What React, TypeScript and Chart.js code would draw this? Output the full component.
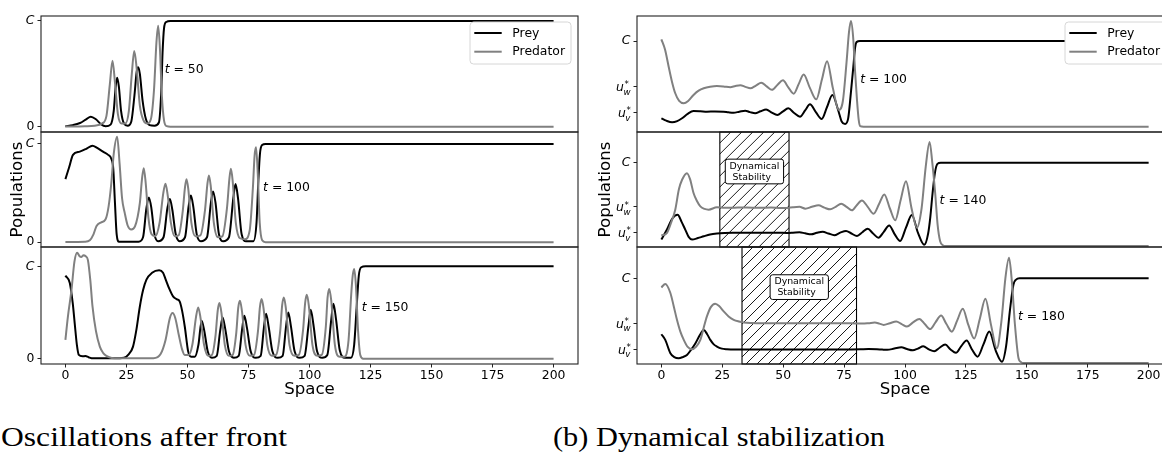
import React, { useEffect, useRef } from 'react';
import { Chart, registerables } from 'chart.js';

Chart.register(...registerables);

type Pt = [number, number];

// ---------------- data ----------------
const SPACE_TICKS = [0, 25, 50, 75, 100, 125, 150, 175, 200];
const X_MIN = -10;
const X_MAX = 210;
const C_LEVEL = 1;
const U_W = 0.47;
const U_V = 0.165;
const LEFT_Y_TICKS = [0, C_LEVEL];
const RIGHT_Y_TICKS = [U_V, U_W, C_LEVEL];
const SERIES_NAMES = ['Prey', 'Predator'];

// (a) oscillations after front
const preyA50: Pt[] = [[0,0.005],[3,0.015],[6,0.035],[8.5,0.07],[10.4,0.095],[12.5,0.07],[14.5,0.025],[16.5,0.005],[18.5,0.02],[19.8,0.15],[20.6,0.38],[21.2,0.464],[21.9,0.38],[22.8,0.15],[24,0.03],[25.5,0.01],[27,0.05],[28.3,0.3],[29.2,0.52],[29.8,0.562],[30.5,0.5],[31.6,0.25],[33,0.07],[34.5,0.015],[36.5,0.01],[38.3,0.04],[39.2,0.3],[39.8,0.7],[40.4,0.93],[41.3,0.99],[43,1],[200,1]];
const predA50: Pt[] = [[0,0.002],[8,0.005],[12,0.01],[15,0.03],[16.8,0.1],[18.2,0.4],[19.3,0.624],[20.3,0.42],[21.5,0.12],[23,0.03],[24.5,0.03],[26,0.15],[27.2,0.5],[28.2,0.716],[29.2,0.55],[30.5,0.2],[32,0.06],[33.5,0.03],[35,0.07],[36.3,0.35],[37.3,0.8],[38,0.955],[38.7,0.75],[39.5,0.3],[40.4,0.06],[41.5,0.005],[43,0],[200,0]];
const preyA100: Pt[] = [[0,0.642],[1.5,0.76],[3.1,0.889],[5.9,0.922],[8.5,0.95],[11.1,0.983],[13,0.96],[15.4,0.922],[17.5,0.889],[18.8,0.85],[19.6,0.75],[20.3,0.4],[21,0.08],[22,0.005],[30,0.005],[31.8,0.05],[33.2,0.35],[34.2,0.456],[35.2,0.35],[36.5,0.08],[38,0.01],[40.2,0.05],[41.8,0.35],[42.8,0.44],[43.8,0.33],[45.2,0.08],[46.8,0.01],[49,0.05],[50.5,0.37],[51.4,0.476],[52.4,0.36],[53.8,0.08],[55.5,0.01],[58,0.05],[59.6,0.4],[60.5,0.517],[61.5,0.4],[62.9,0.08],[64.7,0.01],[67,0.05],[68.8,0.45],[69.7,0.592],[70.7,0.45],[72.2,0.08],[74,0.01],[77,0.01],[78.3,0.2],[79,0.6],[79.7,0.9],[80.6,0.99],[82,1],[200,1]];
const predA100: Pt[] = [[0,0.002],[8,0.005],[10,0.02],[11.5,0.08],[12.7,0.162],[14.5,0.2],[16.4,0.23],[17.7,0.365],[18.8,0.6],[19.8,0.9],[21.2,1.074],[22.2,0.8],[23.2,0.45],[24.3,0.298],[25.5,0.17],[27,0.129],[28.5,0.16],[30.5,0.4],[31.4,0.65],[32.1,0.754],[32.9,0.6],[34,0.25],[35.3,0.08],[36.8,0.06],[38.6,0.2],[40.1,0.5],[41,0.595],[41.9,0.48],[43.2,0.2],[44.8,0.06],[46.4,0.07],[48,0.3],[49,0.56],[49.6,0.642],[50.3,0.55],[51.6,0.2],[53.3,0.06],[55.3,0.07],[57.2,0.33],[58.2,0.6],[58.8,0.679],[59.5,0.58],[60.8,0.2],[62.5,0.05],[64.3,0.06],[66.2,0.35],[67.2,0.65],[67.8,0.747],[68.5,0.63],[69.8,0.2],[71.5,0.04],[73.5,0.03],[75.5,0.12],[76.8,0.55],[77.5,0.88],[78.1,0.966],[78.8,0.7],[79.6,0.2],[80.6,0.02],[82,0],[200,0]];
const preyA150: Pt[] = [[0,0.899],[1.8,0.82],[3,0.6],[3.8,0.385],[4.7,0.15],[5.5,0.04],[7,0.025],[8.2,0.028],[9.5,0.015],[11.3,0.003],[20,0.003],[24,0.01],[26,0.05],[27.7,0.13],[29,0.3],[30.5,0.565],[31.8,0.74],[33.2,0.855],[35.5,0.93],[38.4,0.957],[40,0.93],[41.1,0.855],[42.5,0.76],[44.1,0.674],[45.5,0.645],[46.8,0.62],[47.8,0.52],[48.9,0.348],[50.3,0.076],[51.5,0.02],[53,0.02],[54.5,0.15],[55.8,0.41],[56.9,0.3],[58.3,0.08],[60,0.01],[62,0.03],[63.4,0.3],[64.4,0.446],[65.5,0.32],[67,0.08],[69,0.01],[71,0.03],[72.4,0.32],[73.3,0.464],[74.4,0.33],[75.9,0.08],[78,0.01],[80,0.03],[81.3,0.33],[82.2,0.486],[83.3,0.34],[84.8,0.08],[87,0.01],[89,0.03],[90.4,0.35],[91.3,0.5],[92.4,0.35],[93.9,0.08],[96,0.01],[98,0.03],[99.6,0.36],[100.5,0.529],[101.6,0.37],[103.1,0.08],[105.2,0.01],[107.3,0.04],[108.9,0.42],[109.8,0.595],[110.9,0.42],[112.4,0.09],[114.5,0.01],[117,0.01],[118.3,0.15],[119.3,0.55],[120.2,0.9],[121.2,0.99],[123,1],[200,1]];
const predA150: Pt[] = [[0,0.203],[1,0.45],[2.5,0.747],[3.7,1.05],[4.8,1.146],[5.8,1.11],[6.5,1.102],[7.4,1.12],[8.3,1.109],[9.2,1.07],[10.2,0.85],[11.1,0.565],[12.5,0.3],[14.1,0.13],[15.5,0.06],[16.8,0.03],[19,0.008],[25,0.003],[36,0.005],[39,0.05],[41,0.2],[42.8,0.44],[43.9,0.493],[45,0.44],[46.5,0.25],[47.8,0.1],[48.9,0.04],[50.5,0.04],[52,0.15],[53.5,0.45],[54.4,0.554],[55.3,0.45],[56.8,0.15],[58.5,0.03],[60,0.04],[61.5,0.25],[62.4,0.52],[63.1,0.602],[63.9,0.5],[65.3,0.15],[67,0.03],[68.5,0.04],[70,0.28],[70.8,0.55],[71.5,0.627],[72.3,0.52],[73.8,0.15],[75.6,0.03],[77.3,0.04],[78.9,0.3],[79.7,0.56],[80.4,0.645],[81.2,0.54],[82.7,0.15],[84.6,0.03],[86.3,0.04],[88,0.3],[88.8,0.58],[89.5,0.663],[90.3,0.55],[91.8,0.15],[93.8,0.03],[95.6,0.04],[97.4,0.32],[98.2,0.6],[98.9,0.692],[99.7,0.58],[101.2,0.15],[103.2,0.03],[105,0.04],[106.7,0.35],[107.4,0.66],[108.1,0.754],[108.9,0.63],[110.4,0.15],[112.4,0.02],[114.3,0.02],[116,0.2],[117.1,0.7],[117.7,0.9],[118.3,0.972],[119,0.8],[119.9,0.3],[120.8,0.04],[122,0],[200,0]];

// (b) dynamical stabilization
const preyB100: Pt[] = [[0,0.098],[2,0.07],[4.4,0.051],[6.5,0.065],[8.5,0.098],[10.8,0.15],[13.2,0.183],[16,0.18],[18.7,0.175],[22,0.178],[25.5,0.175],[27.5,0.168],[29.6,0.163],[32,0.175],[34.4,0.187],[36.4,0.17],[38.5,0.156],[40.7,0.18],[43,0.202],[45.3,0.165],[47.6,0.136],[49.8,0.175],[52.1,0.214],[54.5,0.16],[56.9,0.117],[59,0.19],[61,0.261],[63.4,0.17],[65.8,0.09],[68,0.23],[70.2,0.37],[72.7,0.18],[74,0.06],[75.4,0.031],[76.7,0.1],[77.8,0.4],[78.8,0.7],[79.5,0.92],[80.2,0.99],[81.5,1],[200,1]];
const predB100: Pt[] = [[0,1.02],[1.5,0.9],[3,0.7],[4.4,0.52],[5.7,0.39],[7.3,0.3],[9.2,0.273],[11,0.3],[13.2,0.37],[15.3,0.42],[17.4,0.448],[20,0.466],[22.8,0.475],[25.5,0.47],[28.3,0.46],[30.4,0.475],[32.4,0.484],[34.5,0.465],[36.5,0.448],[38.8,0.48],[41,0.514],[43.2,0.47],[45.4,0.43],[47.7,0.49],[49.9,0.541],[52.1,0.46],[54.3,0.385],[56.4,0.5],[58.4,0.61],[61,0.45],[63.6,0.319],[65.9,0.55],[68,0.765],[70.4,0.45],[72.8,0.195],[74.5,0.3],[76,0.75],[77,1.1],[77.8,1.233],[78.7,1.05],[79.5,0.65],[80.3,0.31],[81,0.08],[81.6,0.007],[83,0],[200,0]];
const preyB140: Pt[] = [[0,0.078],[2.3,0.197],[4.5,0.33],[6.7,0.376],[8.3,0.29],[9.8,0.197],[11.2,0.11],[12.6,0.078],[15,0.095],[17.4,0.117],[20,0.138],[22.8,0.149],[26,0.155],[30,0.158],[35,0.16],[40,0.158],[45,0.16],[49,0.158],[51.6,0.157],[54,0.16],[56.7,0.165],[59,0.152],[61.5,0.14],[63.8,0.158],[66.2,0.17],[68.6,0.15],[71,0.13],[73.4,0.16],[75.8,0.18],[78,0.15],[80.3,0.12],[82.5,0.165],[84.7,0.207],[86.9,0.15],[89.1,0.1],[91.3,0.17],[93.5,0.247],[95.8,0.14],[98,0.06],[100.4,0.22],[102.8,0.373],[105.3,0.16],[107.9,0.014],[109.5,0.15],[110.4,0.35],[111.3,0.63],[112.3,0.88],[113.3,0.986],[114.7,1],[200,1]];
const predB140: Pt[] = [[0,0.125],[2.3,0.158],[4,0.28],[5.7,0.436],[7.2,0.68],[8.5,0.795],[10.5,0.874],[11.8,0.8],[13.2,0.636],[14.6,0.54],[16,0.476],[17.7,0.445],[19.4,0.436],[22.8,0.464],[26,0.458],[30,0.46],[35,0.462],[40,0.458],[45,0.462],[49,0.455],[51.6,0.457],[54,0.465],[56.7,0.47],[59.1,0.448],[61.8,0.47],[64.5,0.488],[66.9,0.46],[69.3,0.44],[71.5,0.47],[73.8,0.508],[76,0.47],[78.2,0.428],[80.2,0.49],[82.3,0.547],[84.7,0.47],[87.1,0.388],[89.3,0.5],[91.5,0.619],[93.8,0.45],[96,0.308],[98.2,0.55],[100.4,0.778],[102.7,0.45],[104.9,0.22],[106.8,0.45],[108.5,0.95],[110.1,1.249],[111.2,1],[112.4,0.63],[113.4,0.25],[114.4,0.06],[115.5,0.01],[116.5,0],[200,0]];
const preyB180: Pt[] = [[0,0.34],[1.6,0.273],[3.7,0.115],[5.3,0.07],[7.1,0.056],[8.8,0.07],[10.5,0.095],[12.3,0.16],[14,0.233],[15.8,0.33],[17.4,0.39],[18.8,0.34],[20.1,0.273],[21.5,0.22],[22.8,0.194],[24.8,0.17],[26.9,0.162],[30,0.158],[40,0.158],[50,0.16],[60,0.16],[70,0.158],[78,0.16],[81.6,0.162],[85,0.165],[88.5,0.162],[90.6,0.158],[92.7,0.155],[95.6,0.17],[98.5,0.185],[100.8,0.165],[103.2,0.15],[105.3,0.17],[107.5,0.197],[109.8,0.16],[112,0.138],[114.2,0.18],[116.5,0.217],[118.7,0.16],[120.9,0.12],[123.1,0.2],[125.3,0.265],[127.5,0.16],[129.8,0.075],[132.2,0.22],[134.6,0.371],[137.2,0.15],[139.8,0.015],[141.5,0.2],[143.1,0.63],[144.5,0.925],[145.6,0.985],[147,1],[200,1]];
const predB180: Pt[] = [[0,0.893],[1.6,0.933],[3.7,0.827],[5,0.68],[6.4,0.51],[7.8,0.37],[9.2,0.273],[10.8,0.19],[12.6,0.162],[14.2,0.19],[16,0.273],[17.4,0.42],[18.7,0.55],[20.3,0.66],[22.1,0.7],[23.8,0.67],[25.6,0.609],[27.6,0.55],[29.7,0.51],[31.8,0.49],[33.8,0.478],[37,0.472],[42,0.47],[50,0.47],[60,0.47],[70,0.47],[78,0.468],[82.5,0.465],[85,0.47],[87.6,0.478],[89.5,0.465],[91.2,0.45],[93.8,0.47],[96.4,0.49],[98.6,0.46],[100.8,0.43],[103.3,0.48],[105.9,0.52],[108.1,0.46],[110.3,0.4],[112.5,0.48],[114.8,0.56],[117,0.46],[119.2,0.37],[121.4,0.5],[123.7,0.64],[126,0.45],[128.4,0.29],[130.7,0.52],[133,0.76],[135.3,0.45],[137.7,0.174],[139.6,0.5],[141.2,1],[142.7,1.242],[143.9,0.95],[145.1,0.46],[146.5,0.07],[147.6,0.01],[148.6,0],[200,0]];

const STABLE_B140: Pt = [24, 52.4];
const STABLE_B180: Pt = [33.1, 80.1];
const STABLE_TEXT = ['Dynamical', ' Stability'];
const CAPTIONS = ['Oscillations after front', '(b) Dynamical stabilization'];

// ---------------- layout / style ----------------
const FONT = '"DejaVu Sans", sans-serif';
const TICK_FS = 12.4;
const LABEL_FS = 16.6;
const PAD = 14;
const RPAD = 16;
const XAXIS_H = 40;
const ROW_TOPS = [16, 132, 247];
const ROW_BOTTOMS = [132, 247, 364];
const HATCH_GAP = 11;

interface Sub {
  prey: Pt[];
  pred: Pt[];
  time: string;
  timeAt: Pt;
  yMin: number;
  yMax: number;
  yTicks: number[];
  hatch?: Pt;
  boxY?: number;
}

interface Panel {
  canvasLeft: number;
  yAxisW: number;
  plotW: number;
  titlePadTop: number;
  caption: string;
  captionLeft: number;
  captionW: number;
  subs: Sub[];
}

const PANELS: Panel[] = [
  {
    canvasLeft: 0, yAxisW: 41, plotW: 537, titlePadTop: 7.4,
    caption: CAPTIONS[0], captionLeft: 1, captionW: 286,
    subs: [
      { prey: preyA50, pred: predA50, time: '50', timeAt: [40.7, 0.543], yMin: -0.05, yMax: 1.047, yTicks: LEFT_Y_TICKS },
      { prey: preyA100, pred: predA100, time: '100', timeAt: [81, 0.551], yMin: -0.049, yMax: 1.122, yTicks: LEFT_Y_TICKS },
      { prey: preyA150, pred: predA150, time: '150', timeAt: [121.4, 0.551], yMin: -0.058, yMax: 1.209, yTicks: LEFT_Y_TICKS },
    ],
  },
  {
    canvasLeft: 590, yAxisW: 47, plotW: 536, titlePadTop: 5.4,
    caption: CAPTIONS[1], captionLeft: 553, captionW: 332,
    subs: [
      { prey: preyB100, pred: predB100, time: '100', timeAt: [81.6, 0.545], yMin: -0.062, yMax: 1.292, yTicks: RIGHT_Y_TICKS },
      { prey: preyB140, pred: predB140, time: '140', timeAt: [114.2, 0.547], yMin: -0.012, yMax: 1.368, yTicks: RIGHT_Y_TICKS, hatch: STABLE_B140, boxY: 0.894 },
      { prey: preyB180, pred: predB180, time: '180', timeAt: [146.4, 0.549], yMin: -0.012, yMax: 1.37, yTicks: RIGHT_Y_TICKS, hatch: STABLE_B180, boxY: 0.896 },
    ],
  },
];

function roundRect(ctx: CanvasRenderingContext2D, x: number, y: number, w: number, h: number, r: number) {
  ctx.beginPath();
  ctx.moveTo(x + r, y);
  ctx.lineTo(x + w - r, y);
  ctx.quadraticCurveTo(x + w, y, x + w, y + r);
  ctx.lineTo(x + w, y + h - r);
  ctx.quadraticCurveTo(x + w, y + h, x + w - r, y + h);
  ctx.lineTo(x + r, y + h);
  ctx.quadraticCurveTo(x, y + h, x, y + h - r);
  ctx.lineTo(x, y + r);
  ctx.quadraticCurveTo(x, y, x + r, y);
  ctx.closePath();
}

function drawUStar(ctx: CanvasRenderingContext2D, xRight: number, y: number, sub: string) {
  const big = `italic ${TICK_FS}px ${FONT}`;
  const small = `${TICK_FS * 0.7}px ${FONT}`;
  const smallIt = `italic ${TICK_FS * 0.7}px ${FONT}`;
  ctx.font = big;
  const wu = ctx.measureText('u').width;
  ctx.font = small;
  const ws = ctx.measureText('*').width;
  ctx.font = smallIt;
  const wsub = ctx.measureText(sub).width;
  const x0 = xRight - wu - Math.max(ws, wsub);
  ctx.fillStyle = '#000';
  ctx.textAlign = 'left';
  ctx.textBaseline = 'alphabetic';
  ctx.font = big;
  ctx.fillText('u', x0, y + 4.5);
  ctx.font = small;
  ctx.fillText('*', x0 + wu + 0.6, y + 0.8);
  ctx.font = smallIt;
  ctx.fillText(sub, x0 + wu - 0.5, y + 8.3);
}

function makePlugin(sub: Sub, showLegend: boolean) {
  return {
    id: 'subDeco',
    beforeDatasetsDraw(chart: any) {
      if (!sub.hatch) return;
      const { ctx, chartArea: a, scales } = chart;
      const x1 = scales.x.getPixelForValue(sub.hatch[0]);
      const x2 = scales.x.getPixelForValue(sub.hatch[1]);
      const h = a.bottom - a.top;
      ctx.save();
      ctx.beginPath();
      ctx.rect(x1, a.top, x2 - x1, h);
      ctx.clip();
      ctx.strokeStyle = '#000';
      ctx.lineWidth = 0.9;
      ctx.beginPath();
      for (let x = x1 - h; x < x2 + HATCH_GAP; x += HATCH_GAP) {
        ctx.moveTo(x, a.bottom);
        ctx.lineTo(x + h, a.top);
      }
      ctx.stroke();
      ctx.restore();
      ctx.save();
      ctx.strokeStyle = '#000';
      ctx.lineWidth = 1.1;
      ctx.strokeRect(x1, a.top, x2 - x1, h);
      ctx.restore();
    },
    afterDatasetsDraw(chart: any) {
      const { ctx, scales } = chart;
      const tx = scales.x.getPixelForValue(sub.timeAt[0]);
      const ty = scales.y.getPixelForValue(sub.timeAt[1]);
      ctx.save();
      ctx.fillStyle = '#000';
      ctx.textBaseline = 'middle';
      ctx.textAlign = 'left';
      ctx.font = `italic ${TICK_FS}px ${FONT}`;
      ctx.fillText('t', tx, ty);
      const wt = ctx.measureText('t').width;
      ctx.font = `${TICK_FS}px ${FONT}`;
      ctx.fillText(' = ' + sub.time, tx + wt, ty);
      ctx.restore();
      if (sub.hatch && sub.boxY !== undefined) {
        const cx = scales.x.getPixelForValue((sub.hatch[0] + sub.hatch[1]) / 2);
        const cy = scales.y.getPixelForValue(sub.boxY);
        ctx.save();
        ctx.font = `9.4px ${FONT}`;
        const tw = Math.max(...STABLE_TEXT.map((s) => ctx.measureText(s).width));
        const bw = tw + 8.6;
        const bh = 24.7;
        const bx = cx - bw / 2;
        const by = cy - bh / 2;
        roundRect(ctx, bx, by, bw, bh, 2.5);
        ctx.fillStyle = '#fff';
        ctx.fill();
        ctx.strokeStyle = '#000';
        ctx.lineWidth = 1;
        ctx.stroke();
        ctx.fillStyle = '#000';
        ctx.textAlign = 'left';
        ctx.textBaseline = 'middle';
        ctx.fillText(STABLE_TEXT[0], bx + 4.3, cy - 5.3);
        ctx.fillText(STABLE_TEXT[1], bx + 4.3, cy + 5.6);
        ctx.restore();
      }
    },
    afterDraw(chart: any) {
      const { ctx, chartArea: a, scales } = chart;
      ctx.save();
      ctx.strokeStyle = '#222';
      ctx.lineWidth = 1.1;
      ctx.strokeRect(a.left, a.top, a.right - a.left, a.bottom - a.top);
      ctx.restore();
      if (sub.yTicks.length > 2) {
        ctx.save();
        drawUStar(ctx, a.left - 6, scales.y.getPixelForValue(U_W), 'w');
        drawUStar(ctx, a.left - 6, scales.y.getPixelForValue(U_V), 'v');
        ctx.restore();
      }
      if (showLegend) {
        const bw = 101;
        const bh = 42;
        const bx = a.right - 7 - bw;
        const by = a.top + 6;
        ctx.save();
        roundRect(ctx, bx, by, bw, bh, 3.5);
        ctx.fillStyle = '#fff';
        ctx.fill();
        ctx.strokeStyle = '#d6d6d6';
        ctx.lineWidth = 1;
        ctx.stroke();
        chart.data.datasets.forEach((ds: any, i: number) => {
          const ly = by + 11 + i * 18.7;
          ctx.strokeStyle = ds.borderColor;
          ctx.lineWidth = 2;
          ctx.beginPath();
          ctx.moveTo(bx + 4.3, ly);
          ctx.lineTo(bx + 31.7, ly);
          ctx.stroke();
          ctx.fillStyle = '#000';
          ctx.font = `${TICK_FS}px ${FONT}`;
          ctx.textAlign = 'left';
          ctx.textBaseline = 'middle';
          ctx.fillText(ds.label, bx + 42.3, ly + 0.5);
        });
        ctx.restore();
      }
    },
  };
}

function SubplotCanvas({ panel, row }: { panel: Panel; row: number }) {
  const ref = useRef<HTMLCanvasElement>(null);
  const sub = panel.subs[row];
  const isBottom = row === 2;
  const rowH = ROW_BOTTOMS[row] - ROW_TOPS[row];
  const width = panel.yAxisW + panel.plotW + RPAD;
  const height = rowH + PAD + (isBottom ? XAXIS_H : PAD);
  const top = ROW_TOPS[row] - PAD;

  useEffect(() => {
    const canvas = ref.current;
    if (!canvas) return;
    const yTicks = sub.yTicks;
    const chart = new Chart(canvas, {
      type: 'line',
      data: {
        datasets: [
          {
            label: SERIES_NAMES[0],
            data: sub.prey.map(([x, y]) => ({ x, y })),
            borderColor: '#000000',
            borderWidth: 2,
            pointRadius: 0,
            fill: false,
            cubicInterpolationMode: 'monotone',
            order: 1,
          },
          {
            label: SERIES_NAMES[1],
            data: sub.pred.map(([x, y]) => ({ x, y })),
            borderColor: '#808080',
            borderWidth: 2,
            pointRadius: 0,
            fill: false,
            cubicInterpolationMode: 'monotone',
            order: 0,
          },
        ],
      } as any,
      options: {
        animation: false,
        responsive: false,
        maintainAspectRatio: false,
        devicePixelRatio: 1,
        events: [],
        layout: { padding: { top: PAD, bottom: isBottom ? 0 : PAD, left: 0, right: RPAD } },
        plugins: { legend: { display: false }, tooltip: { enabled: false } },
        scales: {
          x: {
            type: 'linear',
            min: X_MIN,
            max: X_MAX,
            display: isBottom,
            afterBuildTicks: (s: any) => {
              s.ticks = SPACE_TICKS.map((v) => ({ value: v }));
            },
            afterFit: (s: any) => {
              s.height = isBottom ? XAXIS_H : 0;
            },
            grid: { display: true, drawOnChartArea: false, drawTicks: true, tickLength: 3.5, color: '#222', lineWidth: 1 },
            border: { display: false },
            ticks: { color: '#000', font: { family: FONT, size: TICK_FS }, padding: 1, maxRotation: 0, autoSkip: false },
            title: { display: true, text: 'Space', color: '#000', font: { family: FONT, size: LABEL_FS }, padding: { top: 0, bottom: 4.4 } },
          },
          y: {
            type: 'linear',
            min: sub.yMin,
            max: sub.yMax,
            afterBuildTicks: (s: any) => {
              s.ticks = yTicks.map((v) => ({ value: v }));
            },
            afterFit: (s: any) => {
              s.width = panel.yAxisW;
            },
            grid: { display: true, drawOnChartArea: false, drawTicks: true, tickLength: 3.5, color: '#222', lineWidth: 1 },
            border: { display: false },
            ticks: {
              color: '#000',
              padding: 3,
              autoSkip: false,
              callback: (v: any) => (v === C_LEVEL ? 'C' : v === 0 ? '0' : ''),
              font: (ctx: any) => ({
                family: FONT,
                size: TICK_FS,
                style: ctx.tick && ctx.tick.value === C_LEVEL ? 'italic' : 'normal',
              }),
            },
            title: {
              display: row === 1,
              text: 'Populations',
              color: '#000',
              font: { family: FONT, size: LABEL_FS },
              padding: { top: panel.titlePadTop, bottom: 0 },
            },
          },
        },
      } as any,
      plugins: [makePlugin(sub, row === 0)],
    });
    return () => chart.destroy();
  }, []);

  return (
    <canvas
      ref={ref}
      width={width}
      height={height}
      style={{ position: 'absolute', left: panel.canvasLeft, top, width, height }}
    />
  );
}

function Caption({ text, left, targetW }: { text: string; left: number; targetW: number }) {
  const ref = useRef<HTMLSpanElement>(null);
  useEffect(() => {
    const el = ref.current;
    if (!el) return;
    const w = el.getBoundingClientRect().width;
    if (w > 0) el.style.transform = `scaleX(${targetW / w})`;
  }, []);
  return (
    <span
      ref={ref}
      style={{
        position: 'absolute',
        left,
        top: 423,
        fontFamily: '"Liberation Serif", serif',
        fontSize: 27,
        lineHeight: '28px',
        whiteSpace: 'nowrap',
        color: '#000',
        transformOrigin: '0 0',
      }}
    >
      {text}
    </span>
  );
}

export default function App() {
  return (
    <div
      style={{
        position: 'fixed',
        left: 0,
        top: 0,
        width: 1162,
        height: 468,
        overflow: 'hidden',
        background: '#fff',
      }}
    >
      {PANELS.map((p, pi) => (
        <React.Fragment key={pi}>
          {[0, 1, 2].map((r) => (
            <SubplotCanvas key={r} panel={p} row={r} />
          ))}
          <Caption text={p.caption} left={p.captionLeft} targetW={p.captionW} />
        </React.Fragment>
      ))}
    </div>
  );
}
